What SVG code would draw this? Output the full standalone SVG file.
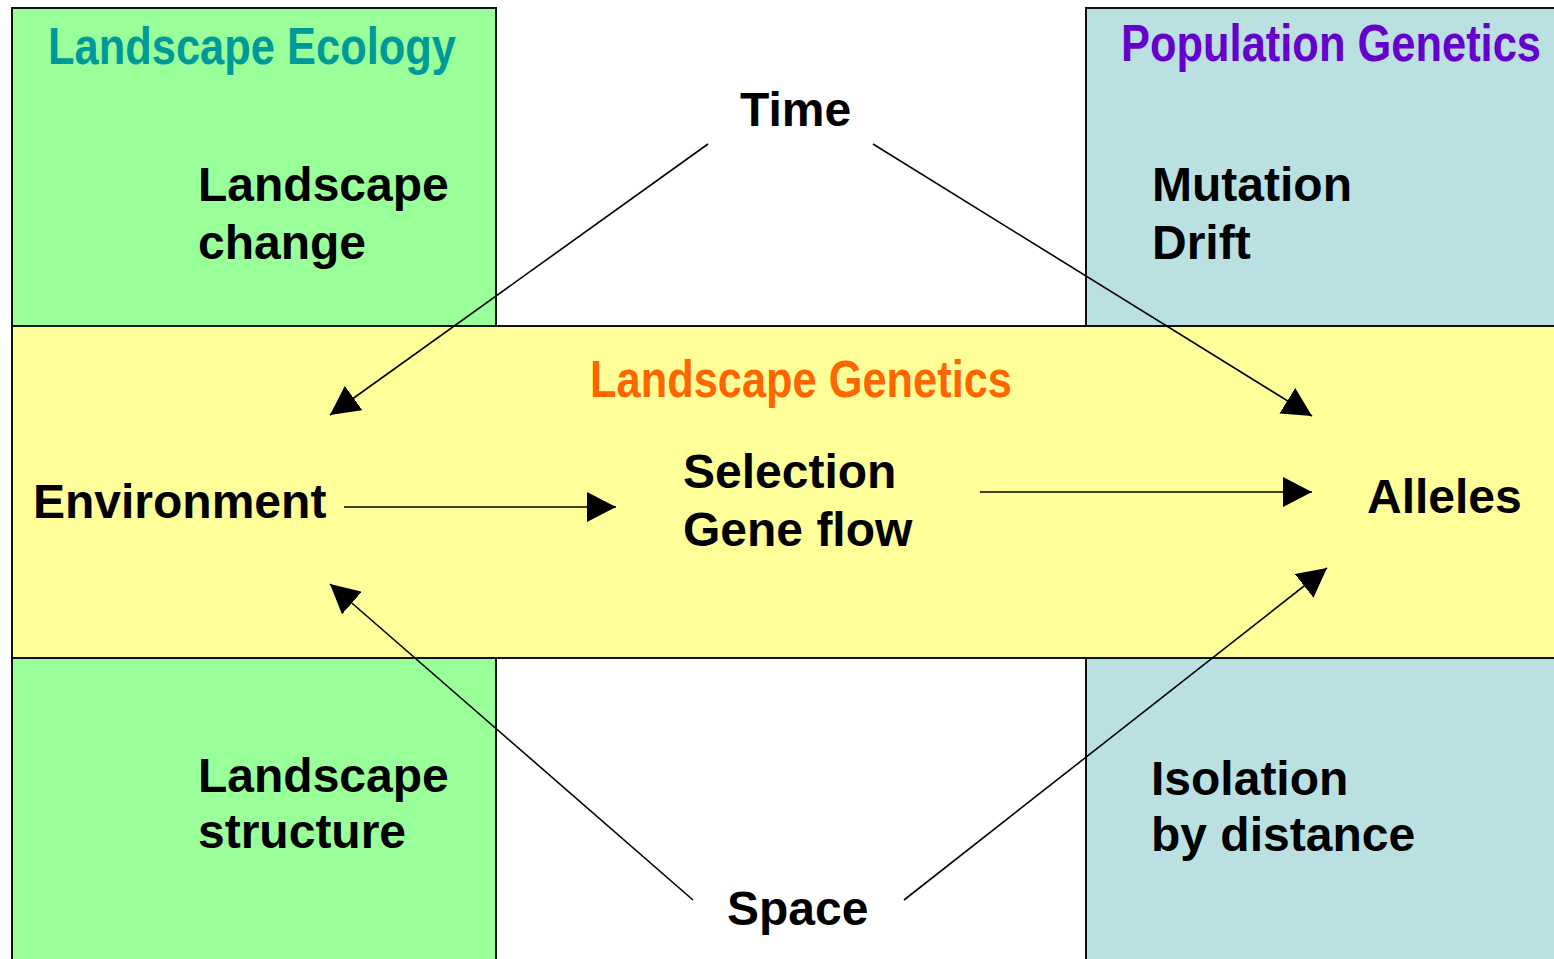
<svg xmlns="http://www.w3.org/2000/svg" width="1554" height="959" viewBox="0 0 1554 959">
<style>
.box{stroke:#111;stroke-width:2}
.green{fill:#99FF99}
.blue{fill:#BAE0E2}
.yellow{fill:#FFFF99}
.t{font-family:"Liberation Sans",Arial,sans-serif;font-weight:bold;font-size:48px;fill:#000}
.title{font-family:"Liberation Sans Narrow","Liberation Sans",Arial,sans-serif;font-weight:bold;font-size:52px}
.conn line{stroke:#000;stroke-width:1.6;marker-end:url(#ah)}
</style>
<defs>
<marker id="ah" markerUnits="userSpaceOnUse" markerWidth="30" markerHeight="30" viewBox="0 0 30 30" refX="29" refY="15" orient="auto">
<path d="M0,0 L29,15 L0,30 Z" fill="#000"/>
</marker>
</defs>
<rect width="1554" height="959" fill="#fff"/>
<g id="landscape-ecology">
<rect class="box green" x="12" y="8" width="484" height="318"/>
<text class="title" x="48" y="64" fill="#009999" textLength="408" lengthAdjust="spacingAndGlyphs">Landscape Ecology</text>
<text class="t" x="198" y="201">Landscape</text>
<text class="t" x="198" y="259">change</text>
</g>
<g id="population-genetics">
<rect class="box blue" x="1086" y="8" width="480" height="318"/>
<text class="title" x="1121" y="61" fill="#6600CC" textLength="420" lengthAdjust="spacingAndGlyphs">Population Genetics</text>
<text class="t" x="1152" y="201">Mutation</text>
<text class="t" x="1152" y="259">Drift</text>
</g>
<g id="landscape-structure">
<rect class="box green" x="12" y="658" width="484" height="310"/>
<text class="t" x="198" y="792">Landscape</text>
<text class="t" x="198" y="848">structure</text>
</g>
<g id="isolation">
<rect class="box blue" x="1086" y="658" width="480" height="310"/>
<text class="t" x="1151" y="795">Isolation</text>
<text class="t" x="1151" y="851">by distance</text>
</g>
<g id="landscape-genetics">
<rect class="box yellow" x="12" y="326" width="1554" height="332"/>
<text class="title" x="590" y="397" fill="#FF6600" textLength="422" lengthAdjust="spacingAndGlyphs">Landscape Genetics</text>
</g>
<g id="time"><text class="t" x="740" y="126">Time</text></g>
<g id="space"><text class="t" x="727" y="925">Space</text></g>
<g id="environment"><text class="t" x="33" y="518">Environment</text></g>
<g id="selection">
<text class="t" x="683" y="488">Selection</text>
<text class="t" x="683" y="546">Gene flow</text>
</g>
<g id="alleles"><text class="t" x="1367" y="513">Alleles</text></g>
<g id="connectors" class="conn">
<line x1="708" y1="144" x2="330" y2="415"/>
<line x1="873" y1="144" x2="1312" y2="416"/>
<line x1="344" y1="507" x2="616" y2="507"/>
<line x1="980" y1="492" x2="1312" y2="492"/>
<line x1="693" y1="900" x2="330" y2="584"/>
<line x1="904" y1="900" x2="1327" y2="568"/>
</g>
</svg>
